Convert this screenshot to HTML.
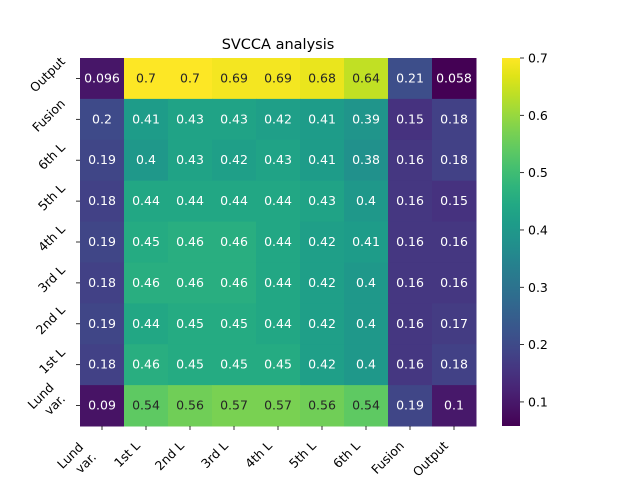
<!DOCTYPE html>
<html><head><meta charset="utf-8"><style>body{margin:0;background:#fff}svg{display:block;font-family:"DejaVu Sans","Liberation Sans",sans-serif}</style></head>
<body>
<svg id="c" width="640" height="480"></svg>
<script>
const xLabels=[["Lund","var."],["1st L"],["2nd L"],["3rd L"],["4th L"],["5th L"],["6th L"],["Fusion"],["Output"]];
const yLabels=[["Output"],["Fusion"],["6th L"],["5th L"],["4th L"],["3rd L"],["2nd L"],["1st L"],["Lund","var."]];
const rowOutput=[0.096,0.7,0.7,0.69,0.69,0.68,0.64,0.21,0.058];
const rowFusion=[0.2,0.41,0.43,0.43,0.42,0.41,0.39,0.15,0.18];
const row6th=[0.19,0.4,0.43,0.42,0.43,0.41,0.38,0.16,0.18];
const row5th=[0.18,0.44,0.44,0.44,0.44,0.43,0.4,0.16,0.15];
const row4th=[0.19,0.45,0.46,0.46,0.44,0.42,0.41,0.16,0.16];
const row3rd=[0.18,0.46,0.46,0.46,0.44,0.42,0.4,0.16,0.16];
const row2nd=[0.19,0.44,0.45,0.45,0.44,0.42,0.4,0.16,0.17];
const row1st=[0.18,0.46,0.45,0.45,0.45,0.42,0.4,0.16,0.18];
const rowLund=[0.09,0.54,0.56,0.57,0.57,0.56,0.54,0.19,0.1];
const cbTicks=[0.1,0.2,0.3,0.4,0.5,0.6,0.7];
const rows=[rowOutput,rowFusion,row6th,row5th,row4th,row3rd,row2nd,row1st,rowLund];

const NS="http://www.w3.org/2000/svg",svg=document.getElementById('c');
function mk(t,a,p){const e=document.createElementNS(NS,t);for(const k in a)e.setAttribute(k,a[k]);(p||svg).appendChild(e);return e;}
const X0=80,X1=476,Y0=58,Y1=426;
const all=rows.flat();const vmin=Math.min(...all),vmax=Math.max(...all);
const nC=xLabels.length,nR=rows.length,cw=(X1-X0)/nC,ch=(Y1-Y0)/nR;
const vir=["#440154","#471365","#482475","#463480","#414487","#3b528b","#355f8d","#2f6c8e","#2a788e","#25848e","#21918c","#1e9c89","#22a884","#2fb47c","#44bf70","#5ec962","#7ad151","#9bd93c","#bddf26","#dfe318","#fde725"].map(h=>[1,3,5].map(i=>parseInt(h.substr(i,2),16)));
const NS_=vir.length-1;
function cmap(v){let t=Math.max(0,Math.min(1,(v-vmin)/(vmax-vmin)))*NS_;let i=Math.min(NS_-1,Math.floor(t)),f=t-i;return vir[i].map((c,k)=>Math.round(c+(vir[i+1][k]-c)*f));}
function lum(c){const l=c.map(x=>{x/=255;return x<=0.03928?x/12.92:Math.pow((x+0.055)/1.055,2.4)});return 0.2126*l[0]+0.7152*l[1]+0.0722*l[2];}
function fmt(v){return String(v);}
const xs=i=>X0+i*cw, ys=j=>Y0+j*ch;
rows.forEach((r,j)=>r.forEach((v,i)=>{
 const c=cmap(v);
 const rc=mk('rect',{x:xs(i),y:ys(j),width:cw+0.5,height:ch+0.5,fill:`rgb(${c})`});
 
 
 const t=mk('text',{x:xs(i)+cw/2,y:ys(j)+ch/2+4,'text-anchor':'middle','font-size':12.5,fill:lum(c)>0.408?'#262626':'#fff'});
 t.textContent=fmt(v);
 
 
}));
function rotLabel(lines,xOff2){
 const outer=mk('g',{});const inner=mk('g',{transform:'rotate(-45)'},outer);
 const t=mk('text',{'text-anchor':'end','font-size':12.5},inner);
 lines.forEach((s,k)=>{const ts=mk('tspan',{x:k?xOff2:0,dy:k?16:0},t);ts.textContent=s;});
 return [outer,t];
}
xLabels.forEach((l,i)=>{const cx=xs(i)+cw/2;
 mk('line',{x1:cx,x2:cx,y1:Y1,y2:Y1+4,stroke:'#000','stroke-width':0.8});
 const [g,t]=rotLabel(l,2);
 
 
 const b=g.getBBox();
 g.setAttribute('transform',`translate(${cx-3-(b.x+b.width)},${Y1+12-b.y})`);
});
yLabels.forEach((l,j)=>{const cy=ys(j)+ch/2;
 mk('line',{x1:X0-4,x2:X0,y1:cy,y2:cy,stroke:'#000','stroke-width':0.8});
 const [g,t]=rotLabel(l,0);
 
 
 const b=g.getBBox();
 g.setAttribute('transform',`translate(${X0-12-(b.x+b.width)},${cy-4-(b.y+b.height/2)})`);
});
const title=mk('text',{x:278,y:49,'text-anchor':'middle','font-size':14.5});title.textContent='SVCCA analysis';


const CX=502,CW=18;
const defs=mk('defs',{});const g=mk('linearGradient',{id:'vg',x1:0,y1:1,x2:0,y2:0},defs);
vir.forEach((c,k)=>mk('stop',{offset:k/NS_,'stop-color':`rgb(${c})`},g));
const cb=mk('rect',{x:CX,y:Y0,width:CW,height:Y1-Y0,fill:'url(#vg)'});


const cby=v=>Y1-(v-vmin)/(vmax-vmin)*(Y1-Y0);
cbTicks.forEach(v=>{const y=cby(v);
 mk('line',{x1:CX+CW,x2:CX+CW+4,y1:y,y2:y,stroke:'#000','stroke-width':0.8});
 const t=mk('text',{x:CX+CW+8,y:y+4.5,'font-size':12.5});t.textContent=v.toFixed(1);
 
 
});
</script>
</body></html>
